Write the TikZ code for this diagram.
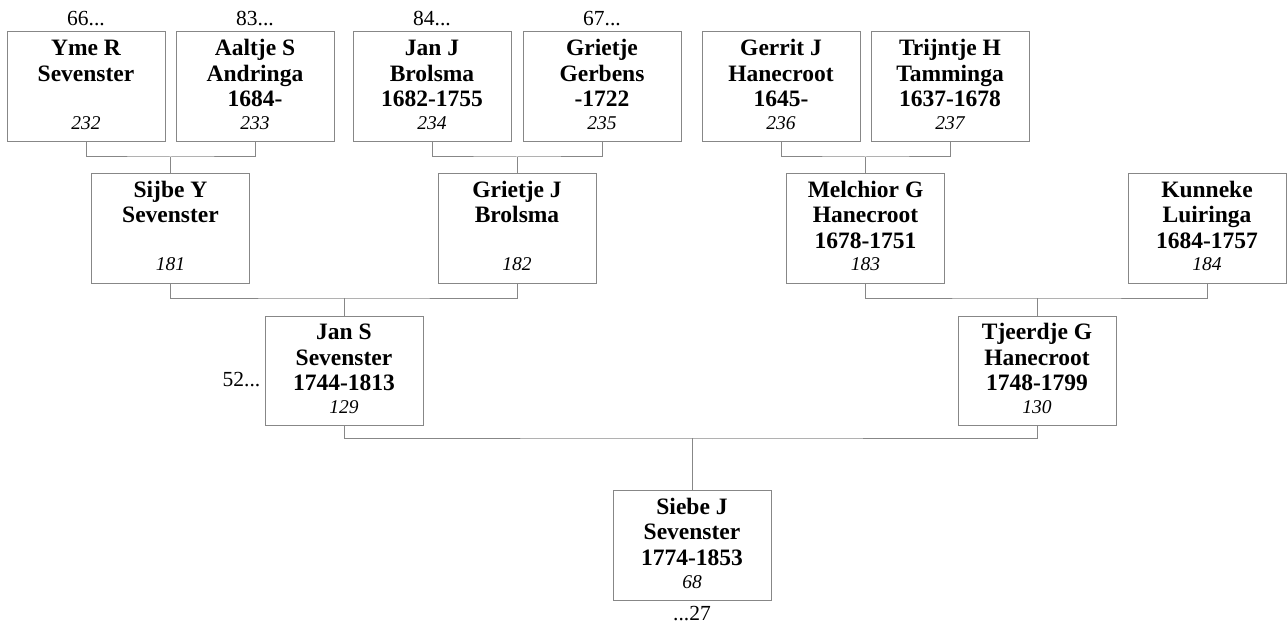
\documentclass[tikz,border=0pt]{standalone}
\usepackage{fontspec}
\setmainfont{Liberation Serif}
\definecolor{boxgray}{RGB}{135,135,135}
\tikzset{
  pbox/.style={draw=boxgray, line width=1pt, minimum width=158pt, minimum height=109.5pt, inner sep=0pt, anchor=north},
  nm/.style={anchor=north, inner sep=0pt, align=center, font=\fontsize{23.5}{25.5}\selectfont\bfseries},
  num/.style={anchor=base, inner sep=0pt, font=\fontsize{19.5}{21}\selectfont\itshape},
  lbl/.style={inner sep=0pt, font=\fontsize{21.5}{23}\selectfont},
  conn/.style={draw=boxgray, line width=1pt}
}
\newcommand{\fr}{\rule{0pt}{24pt}}
\begin{document}
\begin{tikzpicture}[x=1pt,y=-1pt]
\useasboundingbox (0,0) rectangle (1287,628);
% row 1
\node[pbox] (p232) at (86,31.5) {};
\node[pbox] (p233) at (255,31.5) {};
\node[pbox] (p234) at (432,31.5) {};
\node[pbox] (p235) at (602,31.5) {};
\node[pbox] (p236) at (781,31.5) {};
\node[pbox] (p237) at (950,31.5) {};
% row 2
\node[pbox] (p181) at (170.5,173) {};
\node[pbox] (p182) at (517,173) {};
\node[pbox] (p183) at (865.5,173) {};
\node[pbox] (p184) at (1207,173) {};
% row 3
\node[pbox] (p129) at (344,315.5) {};
\node[pbox] (p130) at (1037,315.5) {};
% row 4
\node[pbox] (p68) at (692,490) {};
% names
\node[nm] (t232) at (p232.north) {\fr Yme R\\Sevenster};
\node[nm] (t233) at (p233.north) {\fr Aaltje S\\Andringa\\1684-};
\node[nm] (t234) at (p234.north) {\fr Jan J\\Brolsma\\1682-1755};
\node[nm] (t235) at (p235.north) {\fr Grietje\\Gerbens\\-1722};
\node[nm] (t236) at (p236.north) {\fr Gerrit J\\Hanecroot\\1645-};
\node[nm] (t237) at (p237.north) {\fr Trijntje H\\Tamminga\\1637-1678};
\node[nm] (t181) at (p181.north) {\fr Sijbe Y\\Sevenster};
\node[nm] (t182) at (p182.north) {\fr Grietje J\\Brolsma};
\node[nm] (t183) at (p183.north) {\fr Melchior G\\Hanecroot\\1678-1751};
\node[nm] (t184) at (p184.north) {\fr Kunneke\\Luiringa\\1684-1757};
\node[nm] (t129) at (p129.north) {\fr Jan S\\Sevenster\\1744-1813};
\node[nm] (t130) at (p130.north) {\fr Tjeerdje G\\Hanecroot\\1748-1799};
\node[nm] (t68) at (p68.north) {\fr Siebe J\\Sevenster\\1774-1853};
% numbers
\foreach \n in {232,233,234,235,236,237,181,182,183,184,129,130,68}
  \node[num] (n\n) at ([yshift=12.5pt]p\n.south) {\n};
% outside labels
\node[lbl, anchor=base] (l232) at ([yshift=6pt]p232.north) {66...};
\node[lbl, anchor=base] (l233) at ([yshift=6pt]p233.north) {83...};
\node[lbl, anchor=base] (l234) at ([yshift=6pt]p234.north) {84...};
\node[lbl, anchor=base] (l235) at ([yshift=6pt]p235.north) {67...};
\node[lbl, anchor=base east] (l129) at ([xshift=-4pt,yshift=-16pt]p129.west) {52...};
\node[lbl, anchor=base] (l68) at ([yshift=-20pt]p68.south) {...27};
% connectors
\coordinate (j181) at (p181.north |- 0,157);
\coordinate (j182) at (p182.north |- 0,157);
\coordinate (j183) at (p183.north |- 0,157);
\coordinate (j129) at (p129.north |- 0,298);
\coordinate (j130) at (p130.north |- 0,298);
\coordinate (j68) at (p68.north |- 0,438);
\draw[conn] (p232.south) |- (j181) -| (p233.south);
\draw[conn] (j181) -- (p181.north);
\draw[conn] (p234.south) |- (j182) -| (p235.south);
\draw[conn] (j182) -- (p182.north);
\draw[conn] (p236.south) |- (j183) -| (p237.south);
\draw[conn] (j183) -- (p183.north);
\draw[conn] (p181.south) |- (j129) -| (p182.south);
\draw[conn] (j129) -- (p129.north);
\draw[conn] (p183.south) |- (j130) -| (p184.south);
\draw[conn] (j130) -- (p130.north);
\draw[conn] (p129.south) |- (j68) -| (p130.south);
\draw[conn] (j68) -- (p68.north);
\end{tikzpicture}
\end{document}
